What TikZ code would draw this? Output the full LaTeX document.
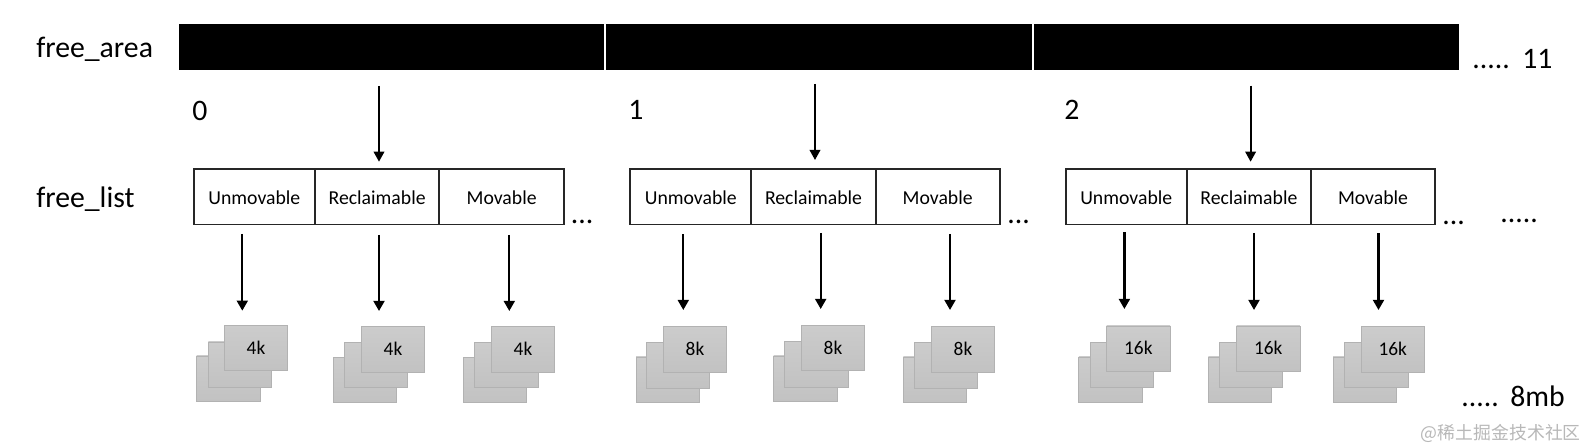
\documentclass[tikz,border=0pt]{standalone}
\usepackage{fontspec}
\setmainfont{Carlito}
\newfontfamily\cjkwm{Noto Sans CJK SC}
\usetikzlibrary{arrows.meta}
\tikzset{
  x=0.75pt,y=-0.75pt,
  barseg/.style={fill=black,draw=none,inner sep=0pt,outer sep=0pt,minimum height=34.5pt},
  cellbox/.style={draw=black!85,line width=1.25pt,fill=white,inner sep=0pt,outer sep=0pt,minimum height=41.5pt},
  celltext/.style={inner sep=0pt,font=\fontsize{14.8pt}{16pt}\selectfont,text height=14.4pt,text depth=2.6pt},
  sheet/.style={draw=black!30,line width=0.7pt,top color=black!20,bottom color=black!24,inner sep=0pt,outer sep=0pt,minimum width=47.6pt,minimum height=34.2pt,anchor=north west,font=\fontsize{14.5pt}{16pt}\selectfont,text height=11.5pt,text depth=2.5pt},
  biglabel/.style={anchor=base west,inner sep=0pt,font=\fontsize{22.3pt}{26pt}\selectfont},
  bigdigit/.style={anchor=base,inner sep=0pt,font=\fontsize{22.3pt}{26pt}\selectfont},
  arrtop/.style={line width=1.35pt,-{Triangle[length=7.6pt,width=8pt]}},
  arrlow/.style={line width=1.7pt,-{Triangle[length=7.6pt,width=8.2pt]}},
}
\newcommand{\mkcell}[3]{\node[cellbox,minimum width={(#3-#2)*0.75pt}] (#1) at ({(#2+#3)/2},197) {};}
\newcommand{\mkstack}[8]{%
  \node[sheet] (#1b) at (#2,#3) {};
  \node[sheet] (#1m) at (#4,#5) {};
  \node[sheet] (#1f) at (#6,#7) {#8};}
\newcommand{\mkarrow}[5]{%
  \coordinate (#1s) at (#3,#4);
  \coordinate (#1e) at (#3,#5);
  \draw[#2] (#1s) -- (#1e);}
\begin{document}
\begin{tikzpicture}
\useasboundingbox (0,0) rectangle (1586,448);
\fill[white] (0,0) rectangle (1586,448);
% free_area bar
\node[barseg,minimum width={425*0.75pt}] (bar0) at (391.5,47.3) {};
\node[barseg,minimum width={426*0.75pt}] (bar1) at (819,47.3) {};
\node[barseg,minimum width={424.6*0.75pt}] (bar2) at (1246.3,47.3) {};
% left labels and indices
\node[biglabel] (lblarea) at (36,57.7) {free\_area};
\node[biglabel] (lbllist) at (36,208) {free\_list};
\node[bigdigit] (idx0) at (200,120.5) {0};
\node[bigdigit] (idx1) at (636,120) {1};
\node[bigdigit] (idx2) at (1072,120) {2};
% free_list cells
\mkcell{u0}{193.7}{315}\mkcell{r0}{315}{439.3}\mkcell{m0}{439.3}{564}
\mkcell{u1}{630.3}{751.3}\mkcell{r1}{751.3}{875.7}\mkcell{m1}{875.7}{999.7}
\mkcell{u2}{1065.7}{1186.8}\mkcell{r2}{1186.8}{1311}\mkcell{m2}{1311}{1435}
\foreach \c/\t in {u0/Unmovable,r0/Reclaimable,m0/Movable,u1/Unmovable,r1/Reclaimable,m1/Movable,u2/Unmovable,r2/Reclaimable,m2/Movable}
  \node[celltext] (t\c) at (\c.center) {\t};
% dots
\node[biglabel] (d0) at (570.5,224) {...};
\node[biglabel] (d1) at (1007,224) {...};
\node[biglabel] (d2) at (1442,225) {...};
\node[biglabel] (d3) at (1500,222.5) {.....};
\node[biglabel] (d4) at (1472,68.5) {.....};
\node[biglabel] (n11) at (1522,69) {11};
\node[biglabel] (d5) at (1461,406.5) {.....};
\node[biglabel] (n8mb) at (1510,407) {8mb};
% arrows from free_area to free_list
\mkarrow{ta0}{arrtop}{379}{86}{161.7}
\mkarrow{ta1}{arrtop}{815}{84}{160}
\mkarrow{ta2}{arrtop}{1250.6}{85.7}{161.7}
% arrows from free_list to blocks
\mkarrow{la0}{arrlow}{242.3}{234}{310.7}
\mkarrow{la1}{arrlow}{379}{235}{311}
\mkarrow{la2}{arrlow}{509.3}{235}{311}
\mkarrow{la3}{arrlow}{683.3}{234.3}{310}
\mkarrow{la4}{arrlow}{820.7}{233}{309}
\mkarrow{la5}{arrlow}{950}{234}{310}
\mkarrow{la6}{arrlow}{1124.4}{232.5}{309}
\mkarrow{la7}{arrlow}{1254}{233}{310}
\mkarrow{la8}{arrlow}{1378.5}{233.5}{310}
% stacks
\mkstack{s0}{196.7}{356}{208.3}{342}{224.3}{325.3}{4k}
\mkstack{s1}{333.3}{357.3}{344.3}{342.3}{361.3}{326.7}{4k}
\mkstack{s2}{463.3}{357.3}{474.7}{342.3}{491.3}{326.7}{4k}
\mkstack{s3}{636}{357}{646.3}{342.7}{663.3}{326.7}{8k}
\mkstack{s4}{773.7}{356}{784.7}{341.7}{801.3}{325.3}{8k}
\mkstack{s5}{903.3}{357}{914.3}{342.7}{931.3}{326.7}{8k}
\mkstack{s6}{1078.8}{357}{1090.2}{342.3}{1106.6}{326}{16k}
\mkstack{s7}{1208.3}{357}{1219.4}{342.3}{1236.5}{326}{16k}
\mkstack{s8}{1333}{357}{1344.6}{342.3}{1361}{326.7}{16k}
% watermark
\node[inner sep=0pt,anchor=west,text=black!28,font=\cjkwm\fontsize{13.4pt}{15pt}\selectfont] (wm) at (1420.7,433.5) {@稀土掘金技术社区};
\end{tikzpicture}
\end{document}
